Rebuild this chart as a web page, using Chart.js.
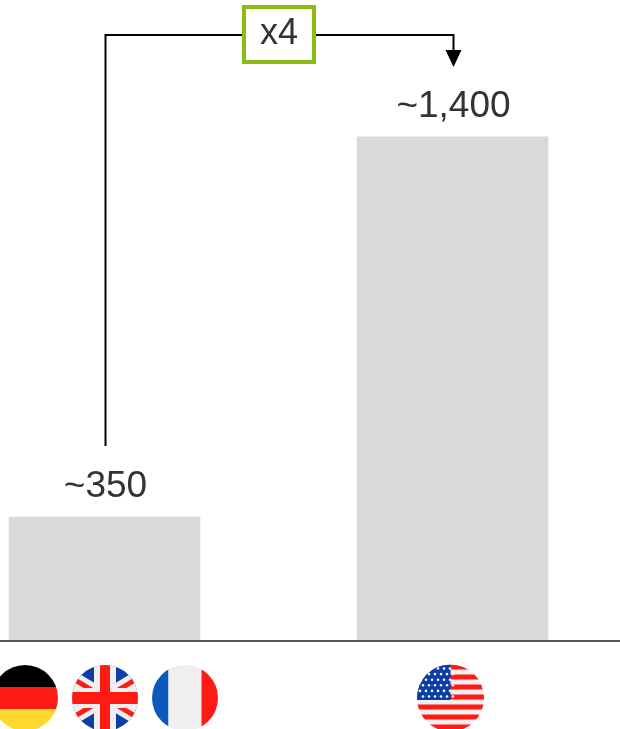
<!DOCTYPE html>
<html>
<head>
<meta charset="utf-8">
<script src="https://cdn.jsdelivr.net/npm/chart.js@4/dist/chart.umd.min.js"></script>
<style>
  html, body { margin: 0; padding: 0; background: #fff; overflow: hidden; }
  #wrap { width: 620px; height: 729px; }
</style>
</head>
<body>
<div id="wrap"><canvas id="chart" width="620" height="729"></canvas></div>
<script>
const categories = ['Germany, UK, France', 'USA'];
const positions = [0, 1];
const values = [344, 1400];
const valueLabels = ['~350', '~1,400'];
const multiplierLabel = 'x4';

const FONT = '"Liberation Sans", Arial, sans-serif';
const TEXT_COLOR = '#333333';

function circleClip(ctx, cx, cy, r, draw) {
    ctx.save();
    ctx.beginPath();
    ctx.arc(cx, cy, r, 0, Math.PI * 2);
    ctx.clip();
    draw(cx - r, cy - r, r * 2);
    ctx.restore();
}

function flagGermany(ctx, cx, cy, r) {
    circleClip(ctx, cx, cy, r, (x, y, s) => {
        ctx.fillStyle = '#000000'; ctx.fillRect(x, y, s, s / 3);
        ctx.fillStyle = '#FF1A14'; ctx.fillRect(x, y + s / 3, s, s / 3);
        ctx.fillStyle = '#FFD92E'; ctx.fillRect(x, y + s * 2 / 3, s, s / 3);
    });
}

function flagUK(ctx, cx, cy, r) {
    circleClip(ctx, cx, cy, r, (x, y, s) => {
        ctx.fillStyle = '#0B3FA6'; ctx.fillRect(x, y, s, s);
        const diag = (w, color) => {
            ctx.strokeStyle = color; ctx.lineWidth = w;
            ctx.beginPath();
            ctx.moveTo(x, y + s * 0.2); ctx.lineTo(x + s, y + s * 0.8);
            ctx.moveTo(x + s, y + s * 0.2); ctx.lineTo(x, y + s * 0.8);
            ctx.stroke();
        };
        diag(15, '#F0F0F0');
        diag(5, '#FF1A14');
        ctx.fillStyle = '#F0F0F0';
        ctx.fillRect(cx - 11, y, 22, s); ctx.fillRect(x, cy - 10, s, 20);
        ctx.fillStyle = '#FF1A14';
        ctx.fillRect(cx - 5, y, 10, s); ctx.fillRect(x, cy - 6, s, 12);
    });
}

function flagFrance(ctx, cx, cy, r) {
    circleClip(ctx, cx, cy, r, (x, y, s) => {
        ctx.fillStyle = '#0A5ABE'; ctx.fillRect(x, y, s / 4, s);
        ctx.fillStyle = '#EFEFEF'; ctx.fillRect(x + s / 4, y, s / 2, s);
        ctx.fillStyle = '#FF1A14'; ctx.fillRect(x + s * 3 / 4, y, s / 4, s);
    });
}

function flagUSA(ctx, cx, cy, r) {
    circleClip(ctx, cx, cy, r, (x, y, s) => {
        ctx.fillStyle = '#F0F0F0'; ctx.fillRect(x, y, s, s);
        ctx.fillStyle = '#FF1A14';
        for (let i = 0; i < 7; i++) ctx.fillRect(x, y + i * 10, s, 5);
        ctx.fillStyle = '#0B3FA6'; ctx.fillRect(x, y, r, r + 2);
        ctx.fillStyle = '#F4F4F4';
        for (let row = 0; row < 6; row++) {
            for (let col = 0; col < 6; col++) {
                ctx.beginPath();
                ctx.arc(x + 3 + col * 6 + (row % 2 ? 3 : 0), y + 4 + row * 5.6, 1.3, 0, Math.PI * 2);
                ctx.fill();
            }
        }
    });
}

const overlay = {
    id: 'overlay',
    afterDatasetsDraw(chart) {
        const { ctx } = chart;
        const bars = chart.getDatasetMeta(0).data;
        const left = bars[0], right = bars[1];

        // labels above the bars
        ctx.save();
        ctx.font = '37px ' + FONT;
        ctx.fillStyle = TEXT_COLOR;
        ctx.textAlign = 'center';
        ctx.textBaseline = 'middle';
        bars.forEach((b, i) => ctx.fillText(valueLabels[i], b.x + 1, b.y - 30));
        ctx.restore();

        // bracket + arrow
        const topY = 35;
        const startY = left.y - 71;
        const rx = Math.round(right.x) + 0.5, lx = Math.round(left.x) + 0.5;
        ctx.save();
        ctx.strokeStyle = '#000000';
        ctx.lineWidth = 2;
        ctx.beginPath();
        ctx.moveTo(lx, startY);
        ctx.lineTo(lx, topY);
        ctx.lineTo(rx, topY);
        ctx.lineTo(rx, 52);
        ctx.stroke();
        ctx.fillStyle = '#000000';
        ctx.beginPath();
        ctx.moveTo(rx - 8, 50);
        ctx.lineTo(rx + 8, 50);
        ctx.lineTo(rx, 67);
        ctx.closePath();
        ctx.fill();

        // multiplier box
        ctx.fillStyle = '#ffffff';
        ctx.fillRect(244, 7, 70, 55);
        ctx.strokeStyle = '#8CBB14';
        ctx.lineWidth = 4;
        ctx.strokeRect(244, 7, 70, 55);
        ctx.font = '36px ' + FONT;
        ctx.fillStyle = TEXT_COLOR;
        ctx.textAlign = 'center';
        ctx.textBaseline = 'middle';
        ctx.fillText(multiplierLabel, 279, 34);
        ctx.restore();

        // flags under the axis
        const flagY = chart.chartArea.bottom + 57;
        flagGermany(ctx, left.x - 79.5, flagY, 33);
        flagUK(ctx, left.x + 0.5, flagY, 33);
        flagFrance(ctx, left.x + 80.5, flagY, 33);
        flagUSA(ctx, right.x - 2, flagY, 33.5);
    }
};

new Chart(document.getElementById('chart'), {
    type: 'bar',
    data: {
        labels: categories,
        datasets: [{
            data: positions.map((p, i) => ({ x: p, y: values[i] })),
            backgroundColor: '#D9D9D9',
            borderWidth: 0,
            barThickness: 191
        }]
    },
    plugins: [overlay],
    options: {
        responsive: false,
        animation: false,
        layout: { padding: { left: 0, right: 0, top: 0, bottom: 80 } },
        plugins: { legend: { display: false }, tooltip: { enabled: false } },
        scales: {
            x: {
                type: 'linear',
                offset: false,
                min: -0.3003,
                max: 1.4813,
                grid: { display: false },
                ticks: { display: false },
                border: { color: '#555555', width: 2, z: 1 }
            },
            y: { display: false, min: 0, max: 1780 }
        }
    }
});
</script>
</body>
</html>
